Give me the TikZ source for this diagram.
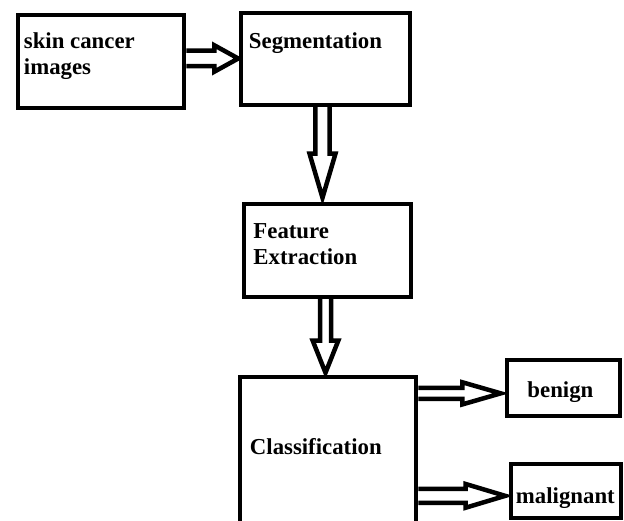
\documentclass[tikz,border=0pt]{standalone}
\usepackage{fontspec}
\setmainfont{Liberation Serif}
\usetikzlibrary{calc}

\begin{document}
\begin{tikzpicture}[x=1pt,y=-1pt,node distance=200pt,
  main node/.style={rectangle, draw, line width=4.5pt},
  box text/.style={anchor=north west, inner sep=0pt, align=left, font=\bfseries\fontsize{22.8}{26}\selectfont},
  h arrow/.style n args={3}{line width=4.5pt, to path={let \p1=(\tikztostart), \p2=(\tikztotarget) in
    (\x1,\y1+#1) -- (\x2-#3,\y1+#1) -- (\x2-#3,\y1+#2) -- (\x2,\y1)
    -- (\x2-#3,\y1-#2) -- (\x2-#3,\y1-#1) -- (\x1,\y1-#1)}},
  v arrow/.style n args={3}{line width=4.5pt, to path={let \p1=(\tikztostart), \p2=(\tikztotarget) in
    (\x1-#1,\y1) -- (\x1-#1,\y2+#3) -- (\x1-#2,\y2+#3) -- (\x1,\y2)
    -- (\x1+#2,\y2+#3) -- (\x1+#1,\y2+#3) -- (\x1+#1,\y1)}}]
			\useasboundingbox (0,0) rectangle (624,521);
			% Nodes
			\node[main node, minimum width=166pt, minimum height=93pt,
			  label={[box text, xshift=8pt, yshift=-19.5pt]north west:{skin cancer\\images}}] (img) at (101,61.5) {};
			\node[main node, minimum width=169pt, minimum height=92pt, right of=img, xshift=24.5pt, yshift=2.5pt,
			  label={[box text, xshift=10pt, yshift=-21.75pt]north west:Segmentation}] (seg) {};
			\node[main node, minimum width=167pt, minimum height=93pt, below of=seg, xshift=2pt, yshift=8.5pt,
			  label={[box text, xshift=11.5pt, yshift=-21.75pt]north west:{Feature\\Extraction}}] (fea) {};
			\node[main node, minimum width=176pt, minimum height=163pt, below of=fea, xshift=0.5pt, yshift=-8pt,
			  label={[box text, xshift=12pt, yshift=-63.75pt]north west:Classification}] (cls) {};
			\node[main node, minimum width=113pt, minimum height=56pt, right of=cls, xshift=35.5pt, yshift=70.5pt,
			  label={[box text, xshift=22.5pt, yshift=-24pt]north west:benign}] (bng) {};
			\node[main node, minimum width=110pt, minimum height=54pt, right of=cls, xshift=38pt, yshift=-32.5pt,
			  label={[box text, xshift=7pt, yshift=-26pt]north west:malignant}] (mal) {};

			\path
			([yshift=3pt]img.east) edge[h arrow={7.75pt}{13.25pt}{24pt}] ([xshift=-0.5pt]seg.west)
			([xshift=-3pt]seg.south) edge[v arrow={7.1pt}{12.95pt}{44pt}] ([yshift=4pt]fea.north)
			([xshift=-2pt]fea.south) edge[v arrow={5.5pt}{12.75pt}{32pt}] ([yshift=2pt]cls.north)
			([yshift=65.15pt]cls.east) edge[h arrow={5.4pt}{11.1pt}{38.5pt}] ([xshift=-4pt]bng.west)
			([yshift=-37.35pt]cls.east) edge[h arrow={6.9pt}{11.9pt}{39.75pt}] ([xshift=-3.5pt]mal.west);
\end{tikzpicture}
\end{document}
